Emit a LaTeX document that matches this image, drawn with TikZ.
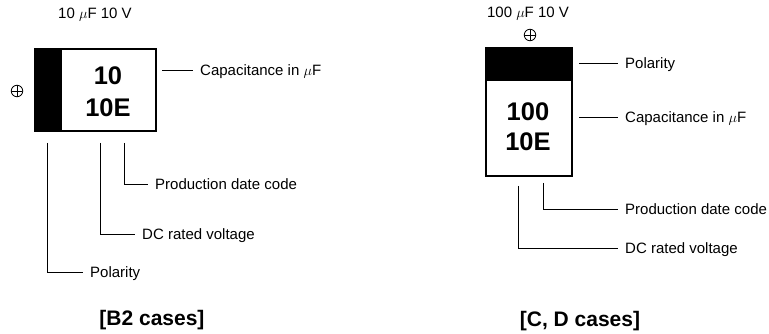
\documentclass[tikz,border=0pt]{standalone}
\usepackage{fontspec}
\setmainfont{Liberation Sans}
\usepackage{amsmath}
\usepackage{tikz}
\tikzset{
    cap-body/.style = {draw, line width=1.2pt, rectangle, inner sep=0pt},
    cap-band/.style = {draw, line width=1.2pt, fill=black, rectangle, inner sep=0pt},
    cap-mark/.style = {inner sep=0pt, font=\fontsize{25.5}{25.5}\selectfont\bfseries},
    lead-label/.style = {anchor=west, inner xsep=7pt, inner ysep=0pt, text height=10.7pt, text depth=0pt, font=\fontsize{15}{15}\selectfont},
    plain-label/.style = {inner sep=0pt, font=\fontsize{15}{15}\selectfont},
    plus-mark/.style = {circle, draw, line width=0.8pt, minimum size=11.5pt, inner sep=0pt,
        path picture={\draw[line width=0.8pt] (path picture bounding box.north) -- (path picture bounding box.south)
            (path picture bounding box.west) -- (path picture bounding box.east);}},
    case-title/.style = {inner sep=0pt, font=\fontsize{21}{21}\selectfont\bfseries},
    leader/.style = {line width=0.9pt},
}

\begin{document}
\begin{tikzpicture}[x=1pt, y=-1pt]
\useasboundingbox (0,0) rectangle (769,334);
% B2 case
\node [plain-label] (b2-rating) at (95,15) {10 $\mu$F 10 V};
\node [cap-body, minimum width=121pt, minimum height=82pt] (b2) at (95.5,90) {};
\node [cap-band, minimum width=26pt, minimum height=82pt, anchor=west] (b2-band) at (b2.west) {};
\node [plus-mark] (b2-plus) at (17,91) {};
\node [cap-mark] (b2-cap) at (108,76) {10};
\node [cap-mark] (b2-code) at (108,108) {10E};

\coordinate (b2-c) at (162,70);
\coordinate (b2-d) at (124,143);
\coordinate (b2-v) at (100,143);
\coordinate (b2-p) at (47,143);
\node [lead-label] (b2-cap-l) at (193,70) {Capacitance in $\mu$F};
\node [lead-label] (b2-date-l) at (148,184) {Production date code};
\node [lead-label] (b2-volt-l) at (135,234) {DC rated voltage};
\node [lead-label] (b2-pol-l) at (83,272) {Polarity};
\draw [leader] (b2-c) -- (b2-cap-l.west);
\draw [leader] (b2-d) |- (b2-date-l.west);
\draw [leader] (b2-v) |- (b2-volt-l.west);
\draw [leader] (b2-p) |- (b2-pol-l.west);

\node [case-title] (b2-title) at (152,320) {[B2 cases]};

% C, D case
\node [plain-label] (cd-rating) at (528,14) {100 $\mu$F 10 V};
\node [plus-mark] (cd-plus) at (530,35) {};
\node [cap-body, minimum width=86pt, minimum height=128pt] (cd) at (529,112) {};
\node [cap-band, minimum width=86pt, minimum height=32pt, anchor=north] (cd-band) at (cd.north) {};
\node [cap-mark] (cd-cap) at (528,112) {100};
\node [cap-mark] (cd-code) at (528,142) {10E};

\coordinate (cd-p) at (579,63);
\coordinate (cd-c) at (579,117);
\coordinate (cd-d) at (543,183);
\coordinate (cd-v) at (518,186);
\node [lead-label] (cd-pol-l) at (618,63) {Polarity};
\node [lead-label] (cd-cap-l) at (618,117) {Capacitance in $\mu$F};
\node [lead-label] (cd-date-l) at (618,209) {Production date code};
\node [lead-label] (cd-volt-l) at (618,248) {DC rated voltage};
\draw [leader] (cd-p) -- (cd-pol-l.west);
\draw [leader] (cd-c) -- (cd-cap-l.west);
\draw [leader] (cd-d) |- (cd-date-l.west);
\draw [leader] (cd-v) |- (cd-volt-l.west);

\node [case-title] (cd-title) at (580,321) {[C, D cases]};
\end{tikzpicture}
\end{document}
